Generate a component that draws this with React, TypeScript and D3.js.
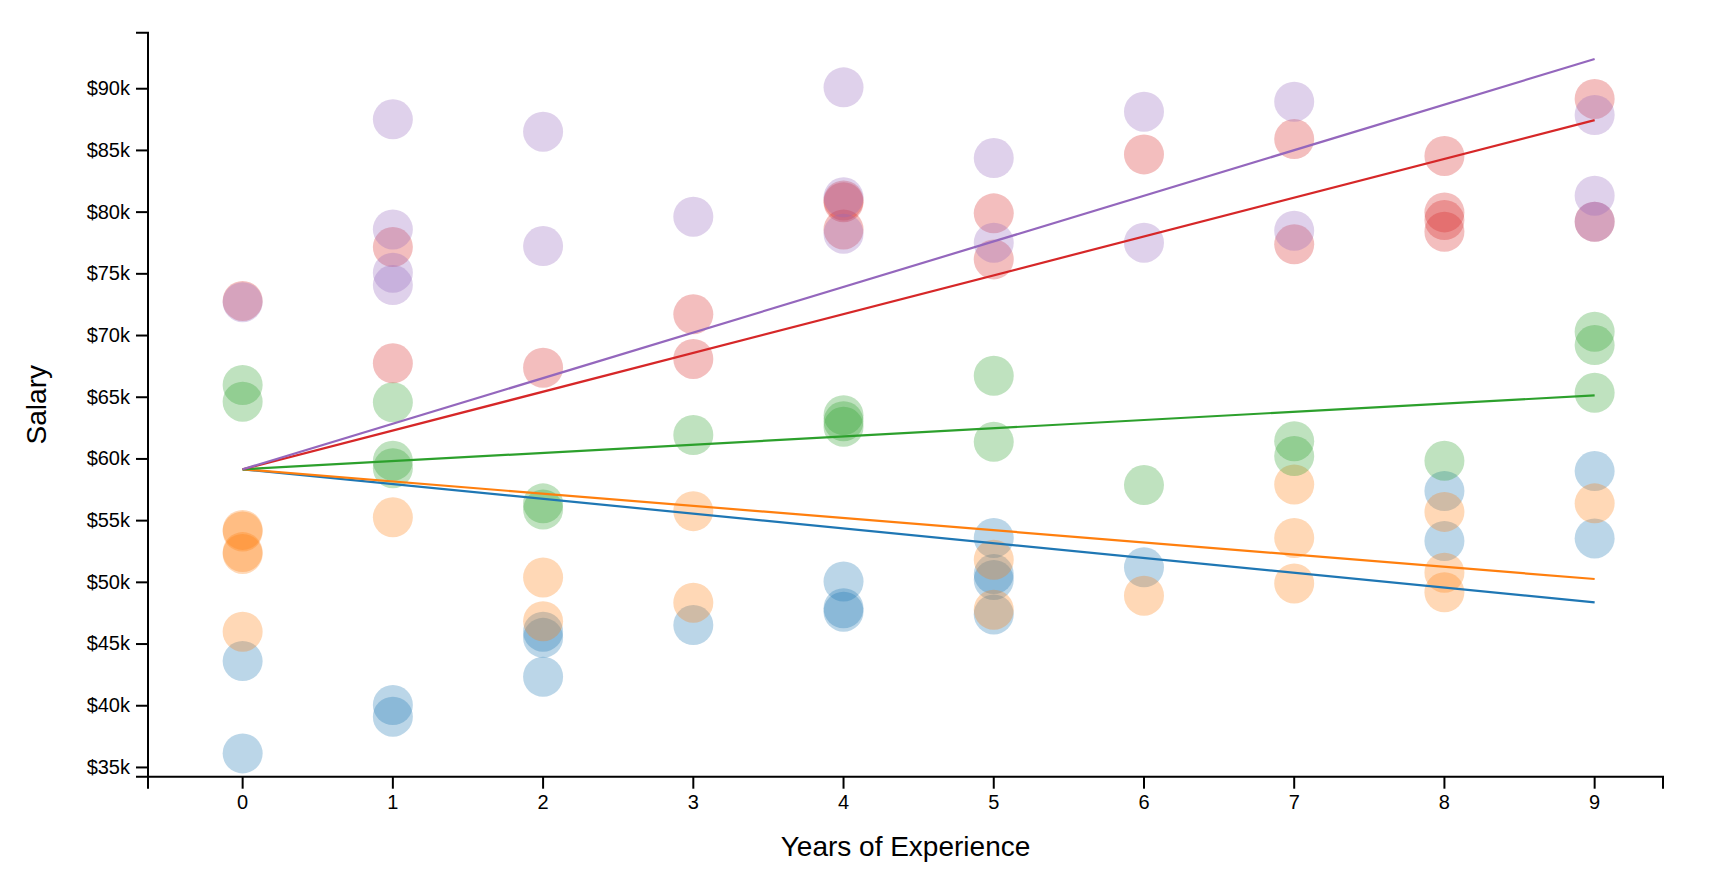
import React from "react";
import * as d3 from "d3";

const W = 1722;
const H = 884;

const seriesNames = ["Blue", "Orange", "Green", "Red", "Purple"];
const seriesColors = ["#1f77b4", "#ff7f0e", "#2ca02c", "#d62728", "#9467bd"];

const yearTicks = [0, 1, 2, 3, 4, 5, 6, 7, 8, 9];
const salaryTicks = [35000, 40000, 45000, 50000, 55000, 60000, 65000, 70000, 75000, 80000, 85000, 90000];

const blueData: [number, number][] = [
  [0, 43620], [0, 36140],
  [1, 40060], [1, 39110],
  [2, 46000], [2, 45500], [2, 42350],
  [3, 46540],
  [4, 50070], [4, 47900], [4, 47620],
  [5, 53600], [5, 50670], [5, 50190], [5, 47400],
  [6, 51220],
  [8, 57400], [8, 53350],
  [9, 59020], [9, 53560],
];

const orangeData: [number, number][] = [
  [0, 54250], [0, 54120], [0, 52450], [0, 52300], [0, 46000],
  [1, 55270],
  [2, 50400], [2, 46850],
  [3, 55770], [3, 48350],
  [5, 51830], [5, 47780],
  [6, 48920],
  [7, 57930], [7, 53600], [7, 49910],
  [8, 55710], [8, 50780], [8, 49190],
  [9, 56400],
];

const greenData: [number, number][] = [
  [0, 65990], [0, 64640],
  [1, 64590], [1, 59850], [1, 59240],
  [2, 56400], [2, 55900],
  [3, 61940],
  [4, 63550], [4, 63050], [4, 62600],
  [5, 66740], [5, 61390],
  [6, 57880],
  [7, 61440], [7, 60230],
  [8, 59850],
  [9, 70310], [9, 69230], [9, 65360],
];

const redData: [number, number][] = [
  [0, 72800],
  [1, 77170], [1, 67750],
  [2, 67390],
  [3, 71720], [3, 68100],
  [4, 80950], [4, 80800], [4, 78600],
  [5, 79900], [5, 76170],
  [6, 84680],
  [7, 85920], [7, 77390],
  [8, 84550], [8, 79980], [8, 79360], [8, 78410],
  [9, 89170], [9, 79220],
];

const purpleData: [number, number][] = [
  [0, 72700],
  [1, 87520], [1, 78600], [1, 75090], [1, 74090],
  [2, 86520], [2, 77250],
  [3, 79630],
  [4, 90110], [4, 81200], [4, 78250],
  [5, 84380], [5, 77520],
  [6, 88140], [6, 77520],
  [7, 88950], [7, 78490],
  [9, 87870], [9, 81330], [9, 79220],
];

const allData = [blueData, orangeData, greenData, redData, purpleData];

// trend lines: start at year 0, end at year 9
const trendStartYear = 0;
const trendEndYear = 9;
const trendStart = [59160, 59160, 59160, 59160, 59160];
const trendEnd = [48380, 50270, 65150, 87460, 92410];

const FONT = "'Liberation Sans', Arial, Helvetica, sans-serif";

export default function App() {
  const left = 148;
  const right = 1663;
  const top = 32.7;
  const bottom = 776.7;

  const x = d3.scaleLinear().domain([-0.63, 9.455]).range([left, right]);
  const y = d3.scaleLinear().domain([34250, 94540]).range([bottom, top]);

  const tick = 12;
  const line = d3
    .line<[number, number]>()
    .x((d) => x(d[0]))
    .y((d) => y(d[1]));

  return (
    <svg
      width={W}
      height={H}
      style={{ position: "absolute", left: 0, top: 0, background: "#fff" }}
      fontFamily={FONT}
    >
      {/* circles */}
      {allData.map((data, si) => (
        <g key={seriesNames[si]} fill={seriesColors[si]} fillOpacity={0.3}>
          {data.map((d, i) => (
            <circle key={i} cx={x(d[0])} cy={y(d[1])} r={20} />
          ))}
        </g>
      ))}

      {/* trend lines */}
      {seriesNames.map((n, si) => (
        <path
          key={n}
          d={line([
            [trendStartYear, trendStart[si]],
            [trendEndYear, trendEnd[si]],
          ]) as string}
          fill="none"
          stroke={seriesColors[si]}
          strokeWidth={2.2}
        />
      ))}

      {/* x axis */}
      <g>
        <path
          d={`M${left},${bottom + tick}V${bottom}H${right}V${bottom + tick}`}
          fill="none"
          stroke="#000"
          strokeWidth={2}
        />
        {yearTicks.map((t) => (
          <g key={t} transform={`translate(${x(t)},${bottom})`}>
            <line y2={tick} stroke="#000" strokeWidth={2} />
            <text y={tick + 6} dy="0.71em" textAnchor="middle" fontSize={20} fill="#000">
              {t}
            </text>
          </g>
        ))}
      </g>

      {/* y axis */}
      <g>
        <path
          d={`M${left - tick},${top}H${left}V${bottom}H${left - tick}`}
          fill="none"
          stroke="#000"
          strokeWidth={2}
        />
        {salaryTicks.map((t) => (
          <g key={t} transform={`translate(${left},${y(t)})`}>
            <line x2={-tick} stroke="#000" strokeWidth={2} />
            <text x={-tick - 6} dy="0.32em" textAnchor="end" fontSize={20} fill="#000">
              {`$${t / 1000}k`}
            </text>
          </g>
        ))}
      </g>

      {/* axis labels */}
      <text x={(left + right) / 2} y={856} textAnchor="middle" fontSize={28} fill="#000">
        Years of Experience
      </text>
      <text
        transform="rotate(-90)"
        x={-(top + bottom) / 2}
        y={46}
        textAnchor="middle"
        fontSize={28}
        fill="#000"
      >
        Salary
      </text>
    </svg>
  );
}
